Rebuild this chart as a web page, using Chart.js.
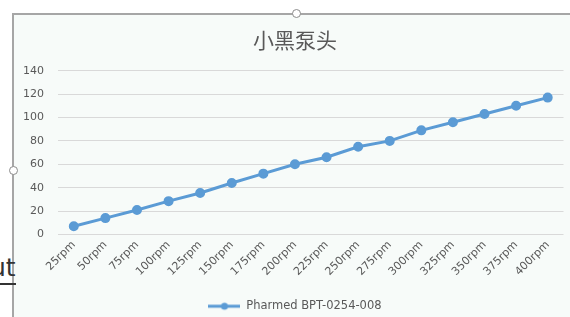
<!DOCTYPE html>
<html>
<head>
<meta charset="utf-8">
<script src="https://cdn.jsdelivr.net/npm/chart.js@4.4.1/dist/chart.umd.min.js"></script>
<style>
  body { margin: 0; background: #fff; width: 570px; height: 317px; overflow: hidden; position: relative; }
  #frame { position: absolute; left: 12px; top: 13px; width: 570px; height: 310px;
           border-left: 2px solid #a6a6a6; border-top: 2px solid #a6a6a6; background: #f7fbf9; }
  #c { position: absolute; left: 24px; top: 15px; }
  .handle { position: absolute; width: 7px; height: 7px; border: 1.5px solid #8c8c8c;
            border-radius: 50%; background: #fff; }
  #ut { position: absolute; left: -10px; top: 253px; font: 25px "DejaVu Sans", sans-serif; color: #333;
        border-bottom: 2px solid #333; line-height: 30px; }
</style>
</head>
<body>
<div id="frame"></div>
<div id="ut">ut</div>
<div class="handle" style="left:292px; top:9px;"></div>
<div class="handle" style="left:9px; top:166px;"></div>
<canvas id="c" width="546" height="307"></canvas>
<script>
document.addEventListener("DOMContentLoaded", () => {
    // dane z wykresu
    const categories = ["25rpm", "50rpm", "75rpm", "100rpm", "125rpm", "150rpm", "175rpm", "200rpm",
        "225rpm", "250rpm", "275rpm", "300rpm", "325rpm", "350rpm", "375rpm", "400rpm"];
    const flowValues = [7, 14, 21, 28.5, 35.5, 44, 52, 60, 66, 75, 80, 89, 96, 103, 110, 117];
    const yTicks = [0, 20, 40, 60, 80, 100, 120, 140];
    const seriesName = "Pharmed BPT-0254-008";
    const chartTitle = "小黑泵头";

    const blue = "#5b9bd5";
    const grey = "#595959";
    const font = "'DejaVu Sans', sans-serif";

    // ikonka legendy: linia z kropka
    const icon = document.createElement("canvas");
    icon.width = 32;
    icon.height = 10;
    const ic = icon.getContext("2d");
    ic.strokeStyle = blue;
    ic.lineWidth = 3;
    ic.beginPath();
    ic.moveTo(0, 5);
    ic.lineTo(32, 5);
    ic.stroke();
    ic.fillStyle = blue;
    ic.beginPath();
    ic.arc(16, 5, 3.5, 0, Math.PI * 2);
    ic.fill();

    const ctx = document.getElementById("c").getContext("2d");
    new Chart(ctx, {
        type: "line",
        data: {
            labels: categories,
            datasets: [{
                label: seriesName,
                data: flowValues,
                borderColor: blue,
                backgroundColor: blue,
                borderWidth: 3,
                pointRadius: 3.5,
                pointHoverRadius: 3.5,
                pointStyle: "circle",
                tension: 0
            }]
        },
        options: {
            responsive: false,
            animation: false,
            devicePixelRatio: 1,
            layout: { padding: { left: 0, right: 4, top: 0, bottom: 0 } },
            plugins: {
                title: {
                    display: true,
                    text: chartTitle,
                    color: grey,
                    font: { family: "'Noto Sans CJK SC', sans-serif", size: 21, weight: "normal" },
                    padding: { top: 12, bottom: 18.5 }
                },
                legend: {
                    position: "bottom",
                    labels: {
                        usePointStyle: true,
                        pointStyle: icon,
                        pointStyleWidth: 32,
                        color: grey,
                        font: { family: font, size: 11.5 },
                        padding: 6
                    }
                },
                tooltip: { enabled: false }
            },
            scales: {
                x: {
                    offset: true,
                    afterFit: (axis) => { axis.height = 60; },
                    grid: { display: false, drawTicks: false },
                    border: { display: false },
                    ticks: {
                        color: grey,
                        font: { family: font, size: 11 },
                        maxRotation: 45,
                        minRotation: 45,
                        padding: 4
                    }
                },
                y: {
                    min: 0,
                    max: 140,
                    afterBuildTicks: (axis) => {
                        axis.ticks = yTicks.map(v => ({ value: v }));
                    },
                    afterFit: (axis) => { axis.width = 34; },
                    grid: { color: "#d9d9d9", lineWidth: 1, drawTicks: false },
                    border: { display: false },
                    ticks: {
                        color: grey,
                        font: { family: font, size: 11 },
                        padding: 14
                    }
                }
            }
        }
    });
});
</script>
</body>
</html>
